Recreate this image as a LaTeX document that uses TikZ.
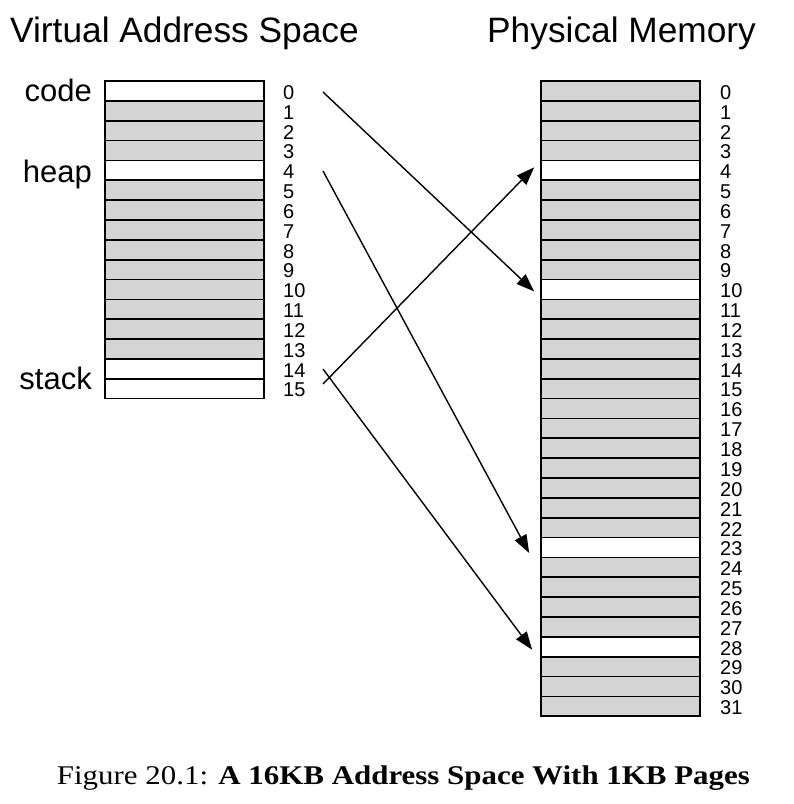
\documentclass[tikz,border=0pt]{standalone}
\usepackage{fontspec}
\usepackage{graphicx}
\setmainfont{Liberation Sans}
\newfontfamily\capfont{Liberation Serif}
\usetikzlibrary{arrows.meta}
\definecolor{pagegray}{RGB}{212,212,212}
\begin{document}
\begin{tikzpicture}[x=1pt,y=-1pt,
  page/.style={draw=black, line width=1.7pt, minimum width=159pt, minimum height=19.85pt, inner sep=0pt, fill=pagegray},
  num/.style={font=\fontsize{20}{20}\selectfont, anchor=west, inner sep=0pt},
  heading/.style={font=\fontsize{35.3}{35.3}\selectfont, anchor=base west, inner sep=0pt},
  seg/.style={font=\fontsize{31}{31}\selectfont, anchor=base east, inner sep=0pt},
  map/.style={line width=1.4pt, -{Triangle[length=18pt,width=13pt]}},
  caption/.style={font=\capfont\fontsize{27}{27}\selectfont, anchor=base west, inner sep=0pt}]
\useasboundingbox (0,0) rectangle (794,804);
% titles
\node[heading] (vt) at (10,42) {Virtual Address Space};
\node[heading] (pt) at (487,42) {Physical Memory};
% virtual pages
\foreach \i in {0,...,15}{
  \edef\f{\ifnum\i=0 white\else\ifnum\i=4 white\else\ifnum\i=14 white\else\ifnum\i=15 white\else pagegray\fi\fi\fi\fi}
  \node[page, fill=\f] (v\i) at (184.5,{81+(\i+0.5)*19.85}) {};
  \node[num] (vl\i) at (283,{82.5+(\i+0.5)*19.85}) {\i};
}
% physical pages
\foreach \i in {0,...,31}{
  \edef\f{\ifnum\i=4 white\else\ifnum\i=10 white\else\ifnum\i=23 white\else\ifnum\i=28 white\else pagegray\fi\fi\fi\fi}
  \node[page, fill=\f] (p\i) at (620.5,{81+(\i+0.5)*19.85}) {};
  \node[num] (pl\i) at (720,{82.5+(\i+0.5)*19.85}) {\i};
}
% segment labels
\node[seg] (code) at (92,101) {code};
\node[seg] (heap) at (92,182) {heap};
\node[seg] (stack) at (92,389) {stack};
% mapping arrows
\coordinate (s0) at (323,92);
\coordinate (s4) at (323,171);
\coordinate (s14) at (323,369);
\coordinate (s15) at (323,384);
\draw[map] (s0) -- ([xshift=-6pt,yshift=-2pt]p10.west);
\draw[map] (s4) -- ([xshift=-11pt,yshift=-5.5pt]p23.west);
\draw[map] (s15) -- ([xshift=-6pt,yshift=3pt]p4.west);
\draw[map] (s14) -- ([xshift=-8pt,yshift=-3pt]p28.west);
% caption
\node[caption] (cap) at (56.7,784) {\resizebox{693pt}{\height}{Figure 20.1: \textbf{A 16KB Address Space With 1KB Pages}}};
\end{tikzpicture}
\end{document}
